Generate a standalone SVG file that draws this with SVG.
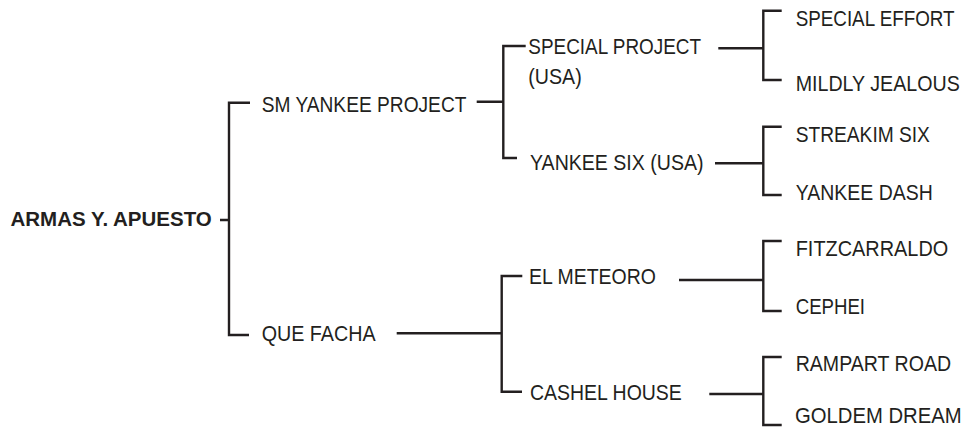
<svg xmlns="http://www.w3.org/2000/svg" width="966" height="428" viewBox="0 0 966 428">
<style>
  .t{font-family:"Liberation Sans",Arial,sans-serif;font-size:21.5px;fill:#231f20;}
  .b{font-weight:bold;font-size:20.5px;}
  .c{fill:none;stroke:#231f20;stroke-width:2.4;stroke-linecap:butt;stroke-linejoin:miter;}
</style>
<rect width="966" height="428" fill="#ffffff"/>
<g id="connectors" class="c">
  <path d="M220,220H229M250,102.7H229V335H249"/>
  <path d="M476.7,101.7H503.3M525.7,46H503.3V158H517"/>
  <path d="M396.7,333.3H501.7M522.3,276H501.7V391.7H522"/>
  <path d="M718.3,48.3H763.3M781.7,10.7H763.3V80H781.7"/>
  <path d="M715,163.3H763.3M781.7,126.7H763.3V195H781.7"/>
  <path d="M679,280H763.3M781.7,241H763.3V311H781.7"/>
  <path d="M709.3,394H763.3M781.7,357H763.3V425H781.7"/>
</g>
<g id="n-armas"><text class="t b" x="10.5" y="226.3">ARMAS Y. APUESTO</text></g>
<g id="n-smyankee"><text class="t" transform="translate(261.7,112.3) scale(0.891,1)">SM YANKEE PROJECT</text></g>
<g id="n-quefacha"><text class="t" transform="translate(261.7,340.7) scale(0.917,1)">QUE FACHA</text></g>
<g id="n-specialproject"><text class="t" transform="translate(528.3,54) scale(0.88,1)">SPECIAL PROJECT</text><text class="t" transform="translate(528.3,84.3) scale(0.913,1)">(USA)</text></g>
<g id="n-yankeesix"><text class="t" transform="translate(530,170.3) scale(0.91,1)">YANKEE SIX (USA)</text></g>
<g id="n-elmeteoro"><text class="t" transform="translate(529,284) scale(0.906,1)">EL METEORO</text></g>
<g id="n-cashelhouse"><text class="t" transform="translate(530,400) scale(0.906,1)">CASHEL HOUSE</text></g>
<g id="n-specialeffort"><text class="t" transform="translate(795.7,26.3) scale(0.875,1)">SPECIAL EFFORT</text></g>
<g id="n-mildlyjealous"><text class="t" transform="translate(795.7,90.7) scale(0.914,1)">MILDLY JEALOUS</text></g>
<g id="n-streakimsix"><text class="t" transform="translate(795.7,141.5) scale(0.892,1)">STREAKIM SIX</text></g>
<g id="n-yankeedash"><text class="t" transform="translate(795.7,200.3) scale(0.906,1)">YANKEE DASH</text></g>
<g id="n-fitzcarraldo"><text class="t" transform="translate(795.7,255.7) scale(0.926,1)">FITZCARRALDO</text></g>
<g id="n-cephei"><text class="t" transform="translate(795.7,314.3) scale(0.866,1)">CEPHEI</text></g>
<g id="n-rampartroad"><text class="t" transform="translate(795.7,370.7) scale(0.91,1)">RAMPART ROAD</text></g>
<g id="n-goldemdream"><text class="t" transform="translate(795,423) scale(0.943,1)">GOLDEM DREAM</text></g>
</svg>
